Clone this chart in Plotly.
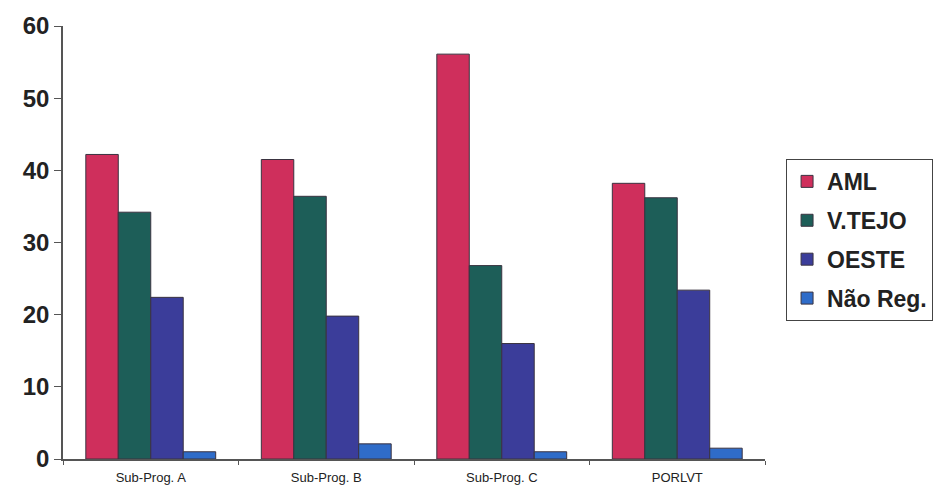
import plotly.graph_objects as go

categories = ["Sub-Prog. A", "Sub-Prog. B", "Sub-Prog. C", "PORLVT"]
series_names = ["AML", "V.TEJO", "OESTE", "Não Reg."]
aml = [42.2, 41.5, 56.1, 38.2]
vtejo = [34.2, 36.4, 26.8, 36.2]
oeste = [22.4, 19.8, 16.0, 23.4]
nao_reg = [1.0, 2.1, 1.0, 1.5]
y_ticks = [0, 10, 20, 30, 40, 50, 60]

colors = ["#cf2f5c", "#1d5e58", "#3b3d9a", "#2f6cc9"]
values = [aml, vtejo, oeste, nao_reg]

fig = go.Figure()
for name, vals, col in zip(series_names, values, colors):
    fig.add_trace(go.Bar(
        x=categories, y=vals, name=name,
        marker=dict(color=col, line=dict(color="#3a3340", width=1)),
        legendgroup=name,
    ))

font_family = "Liberation Sans, Arial, sans-serif"

fig.update_layout(
    width=952, height=497,
    margin=dict(l=63, r=187, t=26, b=35),
    paper_bgcolor="white", plot_bgcolor="white",
    barmode="group", bargap=0.26, bargroupgap=0,
    font=dict(family=font_family, color="#222"),
    showlegend=True,
    legend=dict(
        x=1.03, y=0.693, xanchor="left", yanchor="top",
        bordercolor="#444", borderwidth=1, bgcolor="white",
        font=dict(size=23, family=font_family, color="#222", weight="bold"),
        tracegroupgap=6, itemwidth=30,
    ),
    xaxis=dict(
        showline=True, linecolor="#555", linewidth=1.5,
        ticks="outside", tickson="boundaries", ticklen=4, tickcolor="#555",
        tickfont=dict(size=13, color="#222"),
        ticklabelstandoff=6,
        showgrid=False,
    ),
    yaxis=dict(
        range=[0, 60], tickvals=y_ticks,
        showline=True, linecolor="#555", linewidth=1.5,
        ticks="outside", ticklen=7, tickcolor="#555",
        tickfont=dict(size=24, color="#222", weight="bold"),
        showgrid=False, zeroline=False,
    ),
)

fig.write_html("out.html")
